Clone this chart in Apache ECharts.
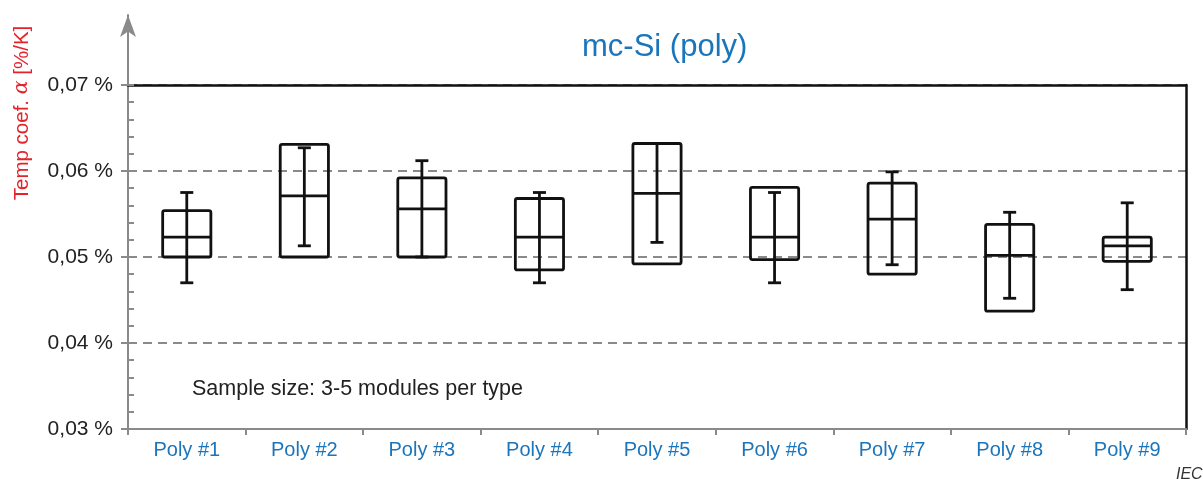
<!DOCTYPE html>
<html>
<head>
<meta charset="utf-8">
<script src="https://cdn.jsdelivr.net/npm/echarts@6/dist/echarts.min.js"></script>
<style>html,body{margin:0;padding:0;background:#fff;}#chart{width:1203px;height:479px;}</style>
</head>
<body>
<div id="chart"></div>
<script>
const categories = ['Poly #1','Poly #2','Poly #3','Poly #4','Poly #5','Poly #6','Poly #7','Poly #8','Poly #9'];
const boxLow     = [0.0500, 0.0500, 0.0500, 0.0485, 0.0492, 0.0497, 0.0480, 0.0437, 0.0495];
const boxHigh    = [0.0554, 0.0631, 0.0592, 0.0568, 0.0632, 0.0581, 0.0586, 0.0538, 0.0523];
const median     = [0.0523, 0.0571, 0.0556, 0.0523, 0.0574, 0.0523, 0.0544, 0.0502, 0.0513];
const whiskerLow = [0.0470, 0.0513, 0.0500, 0.0470, 0.0517, 0.0470, 0.0491, 0.0452, 0.0462];
const whiskerHigh= [0.0575, 0.0627, 0.0612, 0.0575, 0.0632, 0.0575, 0.0599, 0.0552, 0.0563];
const yTicks = [0.03, 0.04, 0.05, 0.06, 0.07];

const FONT = "'Liberation Sans', Arial, sans-serif";
const BLUE = '#1b75bb';
const RED = '#e4232b';
const GRAY = '#8a8a8a';

const data = categories.map((c, i) => [i, boxLow[i], boxHigh[i], median[i], whiskerLow[i], whiskerHigh[i]]);

function renderItem(params, api) {
  const i = api.value(0);
  const lo = api.coord([i, api.value(1)]);
  const hi = api.coord([i, api.value(2)]);
  const md = api.coord([i, api.value(3)]);
  const wl = api.coord([i, api.value(4)]);
  const wh = api.coord([i, api.value(5)]);
  const cx = md[0];
  const bw = api.size([1, 0])[0] * 0.41;
  const cw = 13;
  const st = {stroke: '#111', lineWidth: 2.8, fill: 'none'};
  return {
    type: 'group',
    children: [
      {type: 'rect', shape: {x: cx - bw / 2, y: hi[1], width: bw, height: lo[1] - hi[1], r: 2}, style: st},
      {type: 'line', shape: {x1: cx - bw / 2, y1: md[1], x2: cx + bw / 2, y2: md[1]}, style: st},
      {type: 'line', shape: {x1: cx, y1: wl[1], x2: cx, y2: wh[1]}, style: st},
      {type: 'line', shape: {x1: cx - cw / 2, y1: wl[1], x2: cx + cw / 2, y2: wl[1]}, style: st},
      {type: 'line', shape: {x1: cx - cw / 2, y1: wh[1], x2: cx + cw / 2, y2: wh[1]}, style: st}
    ]
  };
}

const chart = echarts.init(document.getElementById('chart'), null, {renderer: 'canvas'});
chart.setOption({
  animation: false,
  backgroundColor: '#fff',
  title: {
    text: 'mc-Si (poly)',
    left: 577, top: 27,
    textStyle: {color: BLUE, fontSize: 31, fontWeight: 'normal', fontFamily: FONT}
  },
  grid: [
    {left: 128, right: 17, top: 85, bottom: 50},
    {left: 128, right: 17, top: 15, bottom: 50}
  ],
  xAxis: [
    {
      type: 'category', gridIndex: 0, data: categories, boundaryGap: true,
      axisLine: {lineStyle: {color: GRAY, width: 2}},
      axisTick: {show: true, length: 6, interval: 0, lineStyle: {color: GRAY, width: 2}},
      axisLabel: {color: BLUE, fontSize: 20, fontFamily: FONT, margin: 11, interval: 0},
      splitLine: {show: false}
    },
    {
      type: 'category', gridIndex: 0, data: categories, position: 'top',
      axisLine: {lineStyle: {color: '#111', width: 2.5}},
      axisTick: {show: false}, axisLabel: {show: false}, splitLine: {show: false}
    },
    {type: 'value', gridIndex: 1, show: false, min: 0, max: 1}
  ],
  yAxis: [
    {
      type: 'value', gridIndex: 0, min: 0.03, max: 0.07, interval: 0.01, position: 'left',
      axisLine: {show: false},
      axisTick: {show: true, length: 7, lineStyle: {color: GRAY, width: 2}},
      axisLabel: {
        color: '#222', fontSize: 21, fontFamily: FONT, margin: 15,
        formatter: v => v.toFixed(2).replace('.', ',') + ' %'
      },
      splitLine: {show: true, lineStyle: {color: GRAY, width: 2, type: [9, 6]}}
    },
    {
      type: 'value', gridIndex: 0, min: 0.03, max: 0.07, interval: 0.002, position: 'left',
      axisLine: {show: false},
      axisTick: {show: true, inside: true, length: 6, lineStyle: {color: GRAY, width: 2}},
      axisLabel: {show: false}, splitLine: {show: false}
    },
    {
      type: 'value', gridIndex: 0, min: 0.03, max: 0.07, interval: 0.01, position: 'right',
      axisLine: {show: true, lineStyle: {color: '#111', width: 2.5}},
      axisTick: {show: false}, axisLabel: {show: false}, splitLine: {show: false}
    },
    {
      type: 'value', gridIndex: 1, min: 0, max: 1, position: 'left',
      axisLine: {show: true, symbol: ['none', 'arrow'], symbolSize: [12, 22], lineStyle: {color: GRAY, width: 2}},
      axisTick: {show: false}, axisLabel: {show: false}, splitLine: {show: false}
    }
  ],
  graphic: [
    {
      type: 'text', x: 22, y: 113, rotation: Math.PI / 2,
      style: {
        text: '{a|Temp coef. }{b|α}{a| [%/K]}',
        align: 'center', verticalAlign: 'middle',
        rich: {
          a: {fontSize: 20.5, fontFamily: FONT, fill: RED, color: RED},
          b: {fontSize: 20.5, fontFamily: "'DejaVu Serif', serif", fontStyle: 'italic', fill: RED, color: RED}
        }
      }
    },
    {
      type: 'text', left: 192, top: 378,
      style: {text: 'Sample size: 3-5 modules per type', fontSize: 21.5, fontFamily: FONT, fill: '#222'}
    },
    {
      type: 'text', left: 1176, top: 467,
      style: {text: 'IEC', fontSize: 16, fontStyle: 'italic', fontFamily: FONT, fill: '#333'}
    }
  ],
  series: [
    {
      type: 'custom', xAxisIndex: 0, yAxisIndex: 0,
      renderItem: renderItem,
      data: data,
      encode: {x: 0, y: [1, 2, 3, 4, 5]}
    }
  ]
});
</script>
</body>
</html>
